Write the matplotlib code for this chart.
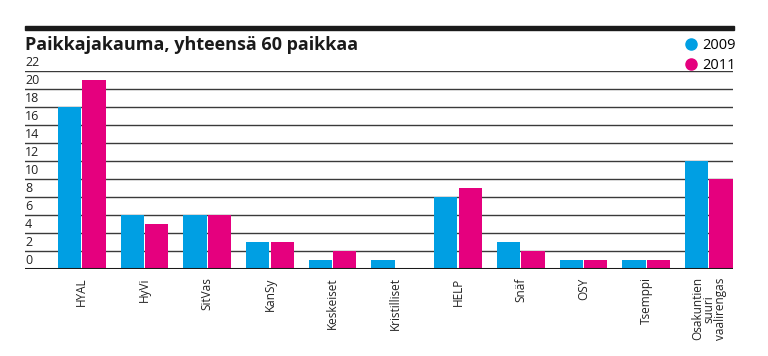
import numpy as np
import matplotlib
matplotlib.use("Agg")
import matplotlib.pyplot as plt
from matplotlib.lines import Line2D
from matplotlib.patches import Rectangle

plt.rcParams['font.family'] = ['Open Sans', 'DejaVu Sans']

parties = ["HYAL", "HyVi", "SitVas", "KanSy", "Keskeiset", "Kristilliset",
           "HELP", "Snäf", "OSY", "Tsemppi", "Osakuntien\nsuuri\nvaalirengas"]
seats_2009 = [18, 6, 6, 3, 1, 1, 8, 3, 1, 1, 12]
seats_2011 = [21, 5, 6, 3, 2, 0, 9, 2, 1, 1, 10]
yticks = list(range(0, 23, 2))

blue = "#009fe3"
pink = "#e5007e"

fig = plt.figure(figsize=(7.68, 3.56), dpi=100)
ax = fig.add_axes([25 / 768, 1 - 269 / 356, 708 / 768, 198 / 356])

x = np.arange(len(parties))
w = 0.37
for y in yticks[1:]:
    ax.axhline(y, color="#3a3a3a", lw=1.0, zorder=0)
ax.bar(x - 0.195, seats_2009, w, color=blue, zorder=2)
ax.bar(x + 0.195, seats_2011, w, color=pink, zorder=2)
ax.axhline(0, color="#1a1a1a", lw=2.2, zorder=3)

ax.set_xlim(-0.905, 10.385)
ax.set_ylim(0, 22)
for s in ax.spines.values():
    s.set_visible(False)
ax.set_yticks([])
ax.set_xticks(x)
ax.set_xticklabels(parties, rotation=90, va="top", ha="center",
                   fontsize=8.5, color="#222222", linespacing=0.85)
ax.tick_params(axis="x", length=0, pad=6)

for y in yticks:
    ax.text(0.0, y + 0.2, str(y), transform=ax.get_yaxis_transform(),
            ha="left", va="bottom", fontsize=9, color="#222222")

# top rule and title
fig.patches.append(Rectangle((25 / 768, 1 - 30 / 356), 709 / 768, 4.5 / 356,
                             transform=fig.transFigure, color="#1a1a1a"))
fig.text(25 / 768, 1 - 45 / 356, "Paikkajakauma, yhteensä 60 paikkaa",
         ha="left", va="center", fontsize=13, fontweight="bold", color="#1a1a1a")

handles = [Line2D([], [], marker="o", ls="", color=blue, markersize=8),
           Line2D([], [], marker="o", ls="", color=pink, markersize=8)]
fig.legend(handles, ["2009", "2011"], loc="upper right",
           bbox_to_anchor=(746 / 768, 1 - 28 / 356), frameon=False,
           fontsize=10.5, handletextpad=0.35, handlelength=0.8,
           labelspacing=0.35, borderpad=0.2)

fig.savefig("out.png", dpi=100, facecolor="white")
